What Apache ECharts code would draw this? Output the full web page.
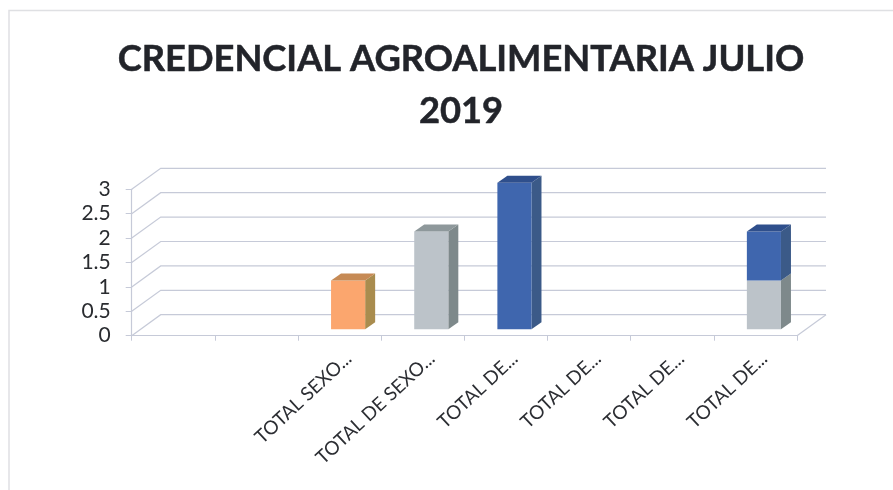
<!DOCTYPE html>
<html><head><meta charset="utf-8">
<style>html,body{margin:0;padding:0;background:#fff}#c{width:893px;height:490px}</style>
<script src="https://cdn.jsdelivr.net/npm/echarts@6/dist/echarts.min.js"></script></head>
<body><div id="c"></div>
<script>
const titleText = 'CREDENCIAL AGROALIMENTARIA JULIO\n2019';
const categories = ['', '', 'TOTAL SEXO...', 'TOTAL DE SEXO...', 'TOTAL DE...', 'TOTAL DE...', 'TOTAL DE...', 'TOTAL DE...'];
const orangeValues = [null, null, 1, null, null, null, null, null];
const grayValues = [null, null, null, 2, null, null, null, 1];
const blueValues = [null, null, null, null, 3, null, null, 1];
const yTicks = [0, 0.5, 1, 1.5, 2, 2.5, 3];
const palette = {
  orange: {front:'#fba66e', side:'#a98c4e', top:'#c68a55'},
  gray: {front:'#bcc3c9', side:'#7e898b', top:'#8e989b'},
  blue: {front:'#3f66ae', side:'#3b5a88', top:'#2f4f8c'}
};
const WALL = [29, -21];
const BAR_OFF = [8.5, -6.5];
const BAR_DEPTH = [10, -7];
const BAR_W = 0.41;
const GRID_COLOR = '#c6cad8';

const stackRows = [];
const cum = categories.map(() => 0);
[['gray', grayValues], ['orange', orangeValues], ['blue', blueValues]].forEach(([name, vals]) => {
  vals.forEach((v, i) => {
    if (v != null) { stackRows.push([i, cum[i], cum[i] + v, name]); cum[i] += v; }
  });
});

function ends(api, v) {
  const bw = api.size([1, 0])[0];
  const a = api.coord([0, v]), b = api.coord([categories.length - 1, v]);
  return [[a[0] - bw / 2, a[1]], [b[0] + bw / 2, b[1]]];
}

const chart = echarts.init(document.getElementById('c'), null, {renderer:'canvas'});
chart.setOption({
  animation:false,
  backgroundColor:'#ffffff',
  title:{text:titleText, left:456, top:28, textAlign:'center',
    textStyle:{fontFamily:'Lato', fontWeight:700, fontSize:36.3, lineHeight:52, color:'#22242a',
      textBorderColor:'#22242a', textBorderWidth:0.5}},
  graphic:[{type:'rect', shape:{x:9,y:10.5,width:900,height:500}, style:{fill:'none',stroke:'#dfe0e3',lineWidth:1.5}, silent:true}],
  grid:[
    {left:131.7, right:96, top:189.3, bottom:154.3},
    {left:140.7, right:87, top:189.3, bottom:154.3}
  ],
  xAxis:[
    {type:'category', gridIndex:0, data:categories, boundaryGap:true,
     axisLine:{lineStyle:{color:GRID_COLOR,width:1.2}},
     axisTick:{show:true, interval:0, alignWithLabel:false, length:5, lineStyle:{color:GRID_COLOR}},
     axisLabel:{show:false}},
    {type:'category', gridIndex:1, data:categories, boundaryGap:true,
     axisLine:{show:false}, axisTick:{show:false},
     axisLabel:{interval:0, rotate:43, fontFamily:'Lato', fontSize:19, color:'#2c2e33', margin:20}}
  ],
  yAxis:[
    {type:'value', gridIndex:0, min:0, max:3, interval:0.5,
     axisLine:{show:true, lineStyle:{color:GRID_COLOR,width:1.2}},
     axisTick:{show:true, length:6, lineStyle:{color:GRID_COLOR}},
     splitLine:{show:false},
     axisLabel:{fontFamily:'Lato', fontSize:21, color:'#2a2c30', margin:21, padding:[8,0,0,0], formatter:v=>String(v)}},
    {type:'value', gridIndex:1, min:0, max:3, interval:0.5, show:false, splitLine:{show:false}}
  ],
  series:[
    {type:'custom', silent:true, z:1, coordinateSystem:'cartesian2d', clip:false,
     data:yTicks.map(t=>[0,t]),
     encode:{x:0,y:1},
     renderItem(params, api){
       const [p, end] = ends(api, api.value(1));
       return {type:'polyline', shape:{points:[p,[p[0]+WALL[0],p[1]+WALL[1]],[end[0]+WALL[0],end[1]+WALL[1]]]},
         style:{fill:'none',stroke:GRID_COLOR,lineWidth:1.2}};
     }},
    {type:'custom', silent:true, z:1, coordinateSystem:'cartesian2d', clip:false,
     data:[[0,0]], encode:{x:0,y:1},
     renderItem(params, api){
       const end = ends(api, 0)[1];
       return {type:'line', shape:{x1:end[0],y1:end[1],x2:end[0]+WALL[0],y2:end[1]+WALL[1]},
         style:{stroke:GRID_COLOR,lineWidth:1.2}};
     }},
    {type:'custom', silent:true, z:3, coordinateSystem:'cartesian2d', clip:false,
     data:stackRows, encode:{x:0,y:[1,2]},
     renderItem(params, api){
       const i = api.value(0), row = stackRows[params.dataIndex], c = palette[row[3]];
       const bw = api.size([1,0])[0]*BAR_W;
       const a = api.coord([i, row[1]]), b = api.coord([i, row[2]]);
       const x0 = a[0]-bw/2+BAR_OFF[0], x1 = x0+bw, y0 = a[1]+BAR_OFF[1], y1 = b[1]+BAR_OFF[1];
       const dx = BAR_DEPTH[0], dy = BAR_DEPTH[1];
       const isTop = row[2] === cum[i];
       const kids = [
         {type:'polygon', shape:{points:[[x1,y0],[x1+dx,y0+dy],[x1+dx,y1+dy],[x1,y1]]}, style:{fill:c.side}},
         {type:'rect', shape:{x:x0,y:y1,width:bw,height:y0-y1}, style:{fill:c.front}}
       ];
       if (isTop) kids.push({type:'polygon', shape:{points:[[x0,y1],[x1,y1],[x1+dx,y1+dy],[x0+dx,y1+dy]]}, style:{fill:c.top}});
       return {type:'group', children:kids};
     }}
  ]
});
</script></body></html>
